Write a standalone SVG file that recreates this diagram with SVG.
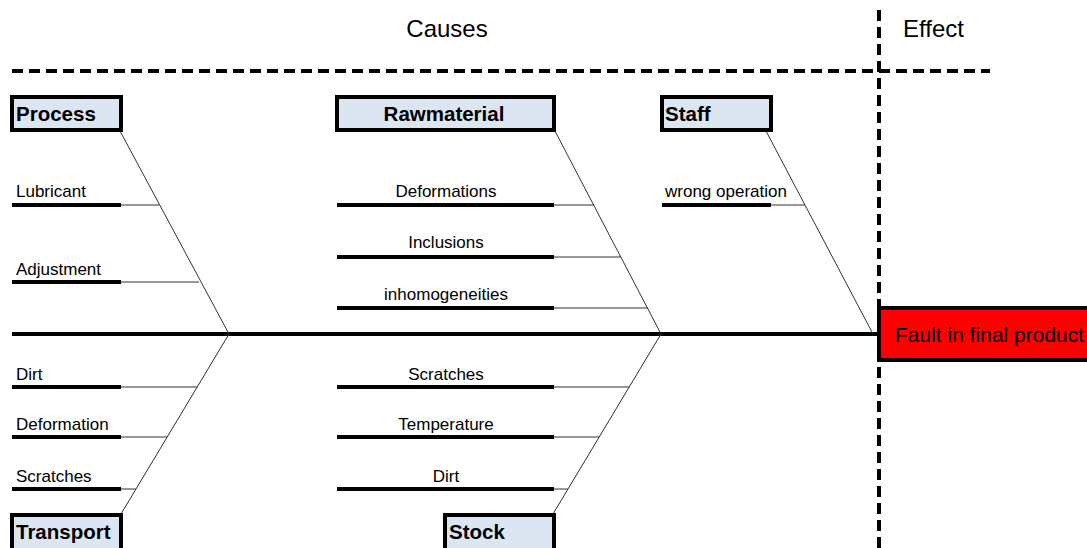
<svg xmlns="http://www.w3.org/2000/svg" width="1087" height="548" viewBox="0 0 1087 548">
<style>
text{font-family:"Liberation Sans",Arial,sans-serif;fill:#000}
.hdr{font-size:24px}
.lbl{font-size:17px}
.mid{text-anchor:middle}
.cat rect{fill:#DCE6F2;stroke:#000;stroke-width:4}
.cat text{font-size:20.5px;font-weight:bold}
.thick{stroke:#000;stroke-width:4;fill:none}
.thin{stroke:#333;stroke-width:1;fill:none}
.dash{stroke:#000;stroke-width:4;stroke-dasharray:11 6;fill:none}
</style>
<rect width="1087" height="548" fill="#fff"/>
<g id="headers">
<text class="hdr mid" x="447" y="37">Causes</text>
<text class="hdr" x="903" y="37">Effect</text>
</g>
<g id="connectors">
<line class="dash" x1="12" y1="71" x2="990" y2="71"/>
<line class="dash" x1="879" y1="10" x2="879" y2="548"/>
<line class="thick" x1="12" y1="334" x2="879" y2="334"/>
<!-- diagonals -->
<line class="thin" x1="120" y1="131" x2="229" y2="334"/>
<line class="thin" x1="229" y1="334" x2="121" y2="514"/>
<line class="thin" x1="555" y1="131" x2="661" y2="334"/>
<line class="thin" x1="661" y1="334" x2="553" y2="514"/>
<line class="thin" x1="766" y1="131" x2="873" y2="334"/>
<!-- Process sub-lines -->
<line class="thick" x1="12" y1="205" x2="121" y2="205"/>
<line class="thin" x1="121" y1="205" x2="159" y2="205"/>
<line class="thick" x1="12" y1="282" x2="121" y2="282"/>
<line class="thin" x1="121" y1="282" x2="199" y2="282"/>
<!-- Transport sub-lines -->
<line class="thick" x1="12" y1="387" x2="121" y2="387"/>
<line class="thin" x1="121" y1="387" x2="197" y2="387"/>
<line class="thick" x1="12" y1="437" x2="121" y2="437"/>
<line class="thin" x1="121" y1="437" x2="167" y2="437"/>
<line class="thick" x1="12" y1="489" x2="121" y2="489"/>
<line class="thin" x1="121" y1="489" x2="136" y2="489"/>
<!-- Rawmaterial sub-lines -->
<line class="thick" x1="337" y1="205" x2="554" y2="205"/>
<line class="thin" x1="554" y1="205" x2="594" y2="205"/>
<line class="thick" x1="337" y1="257" x2="554" y2="257"/>
<line class="thin" x1="554" y1="257" x2="621" y2="257"/>
<line class="thick" x1="337" y1="308" x2="554" y2="308"/>
<line class="thin" x1="554" y1="308" x2="648" y2="308"/>
<!-- Stock sub-lines -->
<line class="thick" x1="337" y1="387" x2="554" y2="387"/>
<line class="thin" x1="554" y1="387" x2="629" y2="387"/>
<line class="thick" x1="337" y1="437" x2="554" y2="437"/>
<line class="thin" x1="554" y1="437" x2="599" y2="437"/>
<line class="thick" x1="337" y1="489" x2="554" y2="489"/>
<line class="thin" x1="554" y1="489" x2="568" y2="489"/>
<!-- Staff sub-line -->
<line class="thick" x1="662" y1="205" x2="771" y2="205"/>
<line class="thin" x1="771" y1="205" x2="805" y2="205"/>
</g>
<g id="labels">
<text class="lbl" x="16" y="197">Lubricant</text>
<text class="lbl" x="16" y="275">Adjustment</text>
<text class="lbl" x="16" y="380">Dirt</text>
<text class="lbl" x="16" y="430">Deformation</text>
<text class="lbl" x="16" y="482">Scratches</text>
<text class="lbl mid" x="446" y="197">Deformations</text>
<text class="lbl mid" x="446" y="248">Inclusions</text>
<text class="lbl mid" x="446" y="300">inhomogeneities</text>
<text class="lbl mid" x="446" y="380">Scratches</text>
<text class="lbl mid" x="446" y="430">Temperature</text>
<text class="lbl mid" x="446" y="482">Dirt</text>
<text class="lbl" x="665" y="197">wrong operation</text>
</g>
<g id="process" class="cat">
<rect x="12" y="97" width="109" height="33"/>
<text x="16" y="121">Process</text>
</g>
<g id="rawmaterial" class="cat">
<rect x="337" y="97" width="217" height="33"/>
<text class="mid" x="444" y="121">Rawmaterial</text>
</g>
<g id="staff" class="cat">
<rect x="662" y="97" width="109" height="33"/>
<text x="665" y="121">Staff</text>
</g>
<g id="transport" class="cat">
<rect x="12" y="515" width="109" height="40"/>
<text x="16" y="539">Transport</text>
</g>
<g id="stock" class="cat">
<rect x="445" y="515" width="109" height="40"/>
<text x="449" y="539">Stock</text>
</g>
<g id="effect">
<rect x="879" y="308" width="215" height="52" fill="#FF0000" stroke="#000" stroke-width="4"/>
<text x="895" y="342" style="font-size:21px">Fault in final product</text>
</g>
</svg>
